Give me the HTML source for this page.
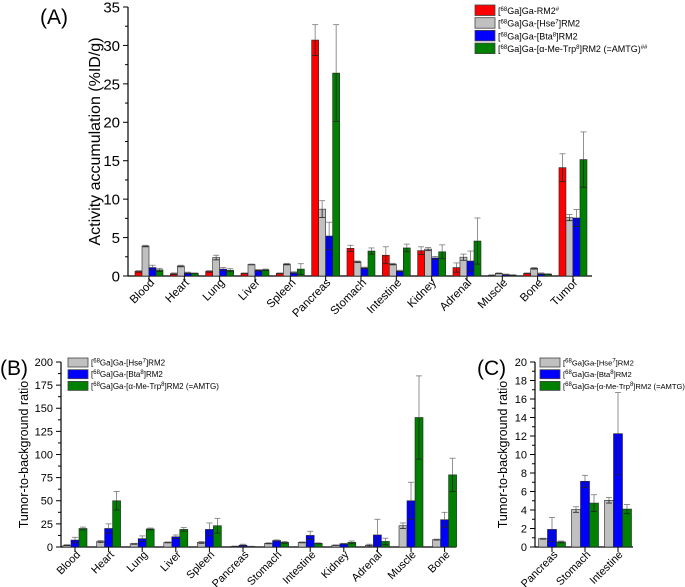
<!DOCTYPE html>
<html><head><meta charset="utf-8"><style>
body{margin:0;background:#fff;}
#wrap{position:relative;width:685px;height:587px;overflow:hidden;}
svg{position:absolute;left:0;top:0;font-family:"Liberation Sans",Arial,sans-serif;}
.cl{position:absolute;font-family:"Liberation Sans",Arial,sans-serif;color:#000;white-space:nowrap;transform-origin:100% 50%;transform:rotate(-45deg);line-height:1;}
</style></head><body>
<div id="wrap">
<svg id="s" width="685" height="587" xmlns="http://www.w3.org/2000/svg"></svg>
</div>
<script>
// ---- Panel A data ----
const catsA = ["Blood","Heart","Lung","Liver","Spleen","Pancreas","Stomach","Intestine","Kidney","Adrenal","Muscle","Bone","Tumor"];
const rm2 = [0.6,0.3,0.6,0.35,0.35,30.7,3.6,2.7,3.3,1.1,0.1,0.35,14.1];
const rm2Err = [0.1,0.1,0.1,0.05,0.05,2.0,0.4,1.1,0.5,0.6,0.05,0.05,1.8];
const hseA = [3.9,1.3,2.4,1.5,1.55,8.7,1.85,1.55,3.5,2.45,0.35,1.0,7.6];
const hseAErr = [0.1,0.1,0.3,0.05,0.1,1.1,0.1,0.1,0.2,0.4,0.05,0.1,0.4];
const btaA = [1.1,0.4,0.9,0.75,0.45,5.2,1.05,0.65,2.35,1.95,0.2,0.3,7.55];
const btaAErr = [0.3,0.1,0.2,0.1,0.1,1.8,0.1,0.1,0.2,1.3,0.05,0.1,1.1];
const amtgA = [0.8,0.35,0.75,0.8,0.9,26.4,3.25,3.65,3.15,4.55,0.12,0.25,15.15];
const amtgAErr = [0.2,0.05,0.2,0.1,0.7,6.3,0.4,0.5,0.9,3.0,0.05,0.05,3.6];
const ticksA = [0,5,10,15,20,25,30,35];
// ---- Panel B data ----
const catsB = ["Blood","Heart","Lung","Liver","Spleen","Pancreas","Stomach","Intestine","Kidney","Adrenal","Muscle","Bone"];
const hseB = [2,6,3.5,5,5,0.8,4,5,2,2,23,8];
const hseBErr = [0.5,1,0.5,0.5,1,0.2,0.5,0.5,0.3,1,3,0.5];
const btaB = [7.5,20,9,11,19,2,7,12.5,3.5,13,50,29.5];
const btaBErr = [3,5,3,2,7,1,0.7,4.5,0.5,17,20,8];
const amtgB = [20,50,19.5,19,23,0.6,5,4,5,6,140,78];
const amtgBErr = [1.5,10,1,2,8,0.2,1,0.5,1.5,3.5,45,18];
const ticksB = [0,25,50,75,100,125,150,175,200];
// ---- Panel C data ----
const catsC = ["Pancreas","Stomach","Intestine"];
const hseC = [0.9,4.05,5.05];
const hseCErr = [0.05,0.3,0.3];
const btaC = [1.9,7.1,12.25];
const btaCErr = [1.3,0.65,4.45];
const amtgC = [0.55,4.75,4.1];
const amtgCErr = [0.1,0.9,0.5];
const ticksC = [0,2,4,6,8,10,12,14,16,18,20];

const RED="#ff0000",GRAY="#c0c0c0",BLUE="#0000ff",GREEN="#008000";
const NS="http://www.w3.org/2000/svg";
const svg=document.getElementById('s');
const wrap=document.getElementById('wrap');
function mk(tag,attrs,parent,text){const e=document.createElementNS(NS,tag);for(const k in attrs)e.setAttribute(k,attrs[k]);if(text!==undefined)e.textContent=text;(parent||svg).appendChild(e);return e;}

function panel(o){
  const g=mk('g',{});
  
  
  const y=v=>o.y0-(v/o.ymax)*(o.y0-o.y1);
  const cx=i=>o.c0+i*o.step;
  const ax=mk('line',{x1:o.x0,y1:o.y1,x2:o.x0,y2:o.y0,stroke:'#000','stroke-width':1.2},g);
  
  const bx=mk('line',{x1:o.x0,y1:o.y0,x2:o.x1,y2:o.y0,stroke:'#000','stroke-width':1.2},g);
  
  o.ticks.forEach((t,k)=>{
    const yy=y(t);
    mk('line',{x1:o.x0-5,y1:yy,x2:o.x0,y2:yy,stroke:'#000'},g);
    if(k<o.ticks.length-1){const ym=y((t+o.ticks[k+1])/2);mk('line',{x1:o.x0-3,y1:ym,x2:o.x0,y2:ym,stroke:'#000'},g);}
    const tl=mk('text',{x:o.x0-8,y:yy+o.tf*0.36,'font-size':o.tf,'text-anchor':'end',fill:'#000'},g,String(t));
    
  });
  o.cats.forEach((c,i)=>{
    const x=cx(i);
    mk('line',{x1:x,y1:o.y0,x2:x,y2:o.y0+5,stroke:'#000'},g);
    const d=document.createElement('div');
    d.className='cl';
    d.textContent=c;
    
    
    d.style.fontSize=o.cf+'px';
    d.style.right=(685-(x+4))+'px';
    d.style.top=(o.y0+6-o.cf/2)+'px';
    wrap.appendChild(d);
  });
  const n=o.series.length;
  o.series.forEach((s,si)=>{
    s.vals.forEach((v,i)=>{
      const x=cx(i)-n*o.bw/2+si*o.bw;
      const top=y(Math.min(v,o.ymax));
      const r=mk('rect',{x:x,y:top,width:o.bw,height:o.y0-top,fill:s.color,stroke:'#222','stroke-width':0.6},g);
      
      
      const e=s.err[i],xm=x+o.bw/2;
      const yt=y(v+e),yb=y(Math.max(v-e,0));
      mk('line',{x1:xm,y1:yt,x2:xm,y2:top,stroke:'#777','stroke-width':0.8},g);
      mk('line',{x1:xm,y1:top,x2:xm,y2:yb,stroke:'#222','stroke-width':0.8},g);
      mk('line',{x1:xm-3,y1:yt,x2:xm+3,y2:yt,stroke:'#777','stroke-width':0.8},g);
      mk('line',{x1:xm-3,y1:yb,x2:xm+3,y2:yb,stroke:'#222','stroke-width':0.8},g);
    });
  });
  const ty=(o.y0+o.y1)/2;
  const yt=mk('text',{x:o.tx,y:ty,'font-size':o.yf,'text-anchor':'middle',transform:`rotate(-90 ${o.tx} ${ty})`,fill:'#000'},g,o.ytitle);
  
  const pl=mk('text',{x:o.lx,y:o.ly,'font-size':21,fill:'#000'},g,o.letter);
  
  o.legend.forEach((L,k)=>{
    const ly=o.legY+k*o.legStep;
    const lg=mk('g',{},g);
    
    mk('rect',{x:o.legX,y:ly,width:o.legW,height:o.legH,fill:L.color,stroke:'#444','stroke-width':0.8},lg);
    const t=mk('text',{x:o.legX+o.legW+3,y:ly+o.legH-1.5,'font-size':o.lf,fill:'#000'},lg);
    t.innerHTML=L.html;
  });
}

const sup=(s)=>`<tspan font-size="6" dy="-3">${s}</tspan><tspan dy="3">`;

panel({name:'panel-a-activity-chart',x0:128,x1:592,y0:276,y1:7,ymax:35,c0:149,step:35.33,bw:7,cats:catsA,ticks:ticksA,tf:15,cf:11.5,yf:16,tx:100,
  ytitle:'Activity accumulation (%ID/g)',letter:'(A)',lx:40,ly:24,
  series:[{key:'rm2',color:RED,vals:rm2,err:rm2Err},{key:'hse',color:GRAY,vals:hseA,err:hseAErr},{key:'bta',color:BLUE,vals:btaA,err:btaAErr},{key:'amtg',color:GREEN,vals:amtgA,err:amtgAErr}],
  legX:475,legY:5,legStep:12.7,legW:20,legH:10.5,lf:9,
  legend:[{color:RED,html:'['+sup('68')+'Ga]Ga-RM2'+'<tspan font-size="6" dy="-3">#</tspan></tspan>'},
          {color:GRAY,html:'['+sup('68')+'Ga]Ga-[Hse<tspan font-size="6" dy="-3">7</tspan><tspan dy="3">]RM2</tspan></tspan>'},
          {color:BLUE,html:'['+sup('68')+'Ga]Ga-[Bta<tspan font-size="6" dy="-3">8</tspan><tspan dy="3">]RM2</tspan></tspan>'},
          {color:GREEN,html:'['+sup('68')+'Ga]Ga-[α-Me-Trp<tspan font-size="6" dy="-3">8</tspan><tspan dy="3">]RM2 (=AMTG)</tspan><tspan font-size="6" dy="-3">##</tspan></tspan>'}]});

const legBC=[{color:GRAY,html:'['+sup('68')+'Ga]Ga-[Hse<tspan font-size="6" dy="-3">7</tspan><tspan dy="3">]RM2</tspan></tspan>'},
          {color:BLUE,html:'['+sup('68')+'Ga]Ga-[Bta<tspan font-size="6" dy="-3">8</tspan><tspan dy="3">]RM2</tspan></tspan>'},
          {color:GREEN,html:'['+sup('68')+'Ga]Ga-[α-Me-Trp<tspan font-size="6" dy="-3">8</tspan><tspan dy="3">]RM2 (=AMTG)</tspan></tspan>'}];

panel({name:'panel-b-ratio-chart',x0:61,x1:456,y0:547,y1:362,ymax:200,c0:75,step:33.6,bw:8,cats:catsB,ticks:ticksB,tf:11,cf:11,yf:12.5,tx:28,
  ytitle:'Tumor-to-background ratio',letter:'(B)',lx:0,ly:375,
  series:[{key:'hse',color:GRAY,vals:hseB,err:hseBErr},{key:'bta',color:BLUE,vals:btaB,err:btaBErr},{key:'amtg',color:GREEN,vals:amtgB,err:amtgBErr}],
  legX:68,legY:358,legStep:11.7,legW:20,legH:9,lf:8,legend:legBC});

panel({name:'panel-c-ratio-chart',x0:535,x1:633,y0:547,y1:362,ymax:20,c0:552,step:33,bw:9,cats:catsC,ticks:ticksC,tf:11,cf:11,yf:12.5,tx:507,
  ytitle:'Tumor-to-background ratio',letter:'(C)',lx:477,ly:375,
  series:[{key:'hse',color:GRAY,vals:hseC,err:hseCErr},{key:'bta',color:BLUE,vals:btaC,err:btaCErr},{key:'amtg',color:GREEN,vals:amtgC,err:amtgCErr}],
  legX:540,legY:358,legStep:11.7,legW:20,legH:9,lf:7.6,legend:legBC});
</script>
</body></html>
